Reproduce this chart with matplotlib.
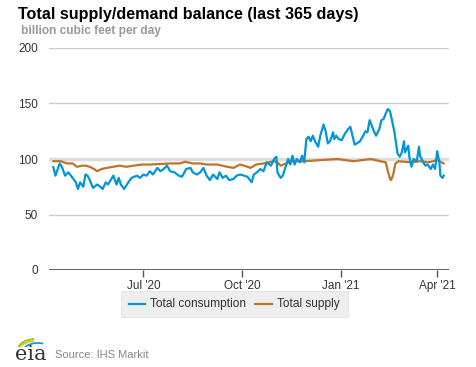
import matplotlib
matplotlib.use("Agg")
import matplotlib.pyplot as plt
from matplotlib.patches import Arc
from matplotlib.lines import Line2D
import pandas as pd

plt.rcParams['font.family'] = ['Liberation Sans', 'DejaVu Sans']

start_date = "2020-04-08"

consumption_days = [
    0, 2, 6, 8, 11, 14, 18, 21, 23, 25,
    28, 30, 32, 34, 37, 41, 44, 46, 49, 51,
    56, 59, 61, 63, 66, 70, 73, 78, 81, 84,
    87, 90, 93, 97, 100, 103, 106, 109, 113, 117,
    120, 124, 128, 130, 134, 137, 140, 143, 146, 149,
    153, 155, 158, 161, 164, 168, 171, 174, 178, 181,
    185, 187, 190, 193, 196, 199, 203, 206, 208, 209,
    212, 214, 217, 219, 221, 223, 225, 227, 230, 232,
    234, 236, 238, 240, 242, 244, 247, 249, 252, 254,
    256, 258, 261, 262, 264, 266, 269, 272, 275, 277,
    279, 281, 283, 286, 289, 291, 293, 295, 297, 299,
    301, 304, 306, 308, 310, 312, 314, 316, 318, 320,
    321, 323, 325, 327, 328, 331, 332, 334, 336, 339,
    341, 342, 345, 347, 349, 352, 354, 356, 358, 360,
    361, 363, 364,
]
consumption = [
    92.7, 85, 96, 93, 85, 88, 83, 79, 73, 79,
    75, 86, 85, 81, 74, 77, 75, 73, 79, 77,
    85, 77, 83, 77, 73, 79, 83, 85, 83, 86,
    85, 89, 86, 92, 89, 91, 94, 89, 88, 85,
    84, 91, 92, 88, 86, 88, 92, 85, 81, 86,
    82, 88, 83, 85, 81, 82, 85, 86, 85, 84,
    79, 86, 88, 91, 89, 97, 94, 100, 102, 88,
    83, 85, 94, 100, 95, 103, 95, 100, 97, 103,
    97, 118, 120, 116, 121, 116, 111, 121, 131, 125,
    114, 116, 124, 118, 121, 118, 117, 123, 127, 129,
    121, 113, 114, 116, 121, 125, 124, 135, 130, 125,
    121, 127, 135, 136, 141, 145, 143, 134, 125, 112,
    105, 102, 106, 116, 106, 112, 102, 93, 100, 98,
    111, 103, 97, 94, 95, 91, 95, 91, 107, 97,
    85, 83, 85,
]

supply_days = [
    0, 7, 13, 18, 22, 27, 30, 34, 38, 41,
    45, 50, 56, 62, 68, 75, 83, 90, 100, 109,
    118, 123, 130, 137, 143, 153, 162, 168, 174, 178,
    184, 189, 196, 201, 206, 209, 212, 217, 223, 234,
    249, 265, 280, 296, 305, 310, 312, 314, 315, 317,
    319, 322, 333, 342, 350, 358, 364,
]
supply = [
    98, 98, 96, 96, 93, 94, 94, 93, 91, 89,
    91, 92, 93, 94, 93, 94, 95, 95, 95.5, 96,
    96, 97.5, 96, 96, 95, 95, 93, 92, 95, 94,
    92, 95, 96, 97, 98, 97, 94, 96, 98, 98,
    99, 100, 98, 100, 98, 97, 89, 82, 81, 86,
    96, 98, 97, 98, 97, 99, 96,
]

y_ticks = [0, 50, 100, 150, 200]
x_tick_dates = ["2020-07-01", "2020-10-01", "2021-01-01", "2021-04-01"]
x_tick_labels = ["Jul '20", "Oct '20", "Jan '21", "Apr '21"]

t0 = pd.Timestamp(start_date)
cx = [t0 + pd.Timedelta(days=d) for d in consumption_days]
sx = [t0 + pd.Timedelta(days=d) for d in supply_days]

BLUE = "#0096d7"
ORANGE = "#bd732a"
TXT = "#333333"

fig = plt.figure(figsize=(4.77, 3.67), dpi=100)
ax = fig.add_axes([49 / 477, 1 - 270 / 367, 400 / 477, 222 / 367])

ax.plot(sx, supply, color=ORANGE, lw=1.6, zorder=3)
ax.plot(cx, consumption, color=BLUE, lw=1.6, zorder=4)

ax.set_ylim(0, 200)
ax.set_xlim(pd.Timestamp("2020-04-04"), pd.Timestamp("2021-04-12"))
for v in y_ticks[1:]:
    if v == 100:
        ax.axhline(v, color="#dddddd", lw=2.5, zorder=1)
    else:
        ax.axhline(v, color="#cccccc", lw=1.0, zorder=1)
ax.axhline(0, color="#555555", lw=1.3, zorder=2)

ax.set_yticks(y_ticks)
ax.set_yticklabels([str(v) for v in y_ticks])
ax.tick_params(axis="y", length=0, pad=8, labelsize=8.5, labelcolor=TXT)
ax.set_xticks([pd.Timestamp(d) for d in x_tick_dates])
ax.set_xticklabels(x_tick_labels)
ax.tick_params(axis="x", length=5, width=1, color="#555555", pad=2,
               labelsize=8.5, labelcolor=TXT)
for s in ax.spines.values():
    s.set_visible(False)
ax.set_facecolor("none")

fig.text(18 / 477, 1 - 14 / 367, "Total supply/demand balance (last 365 days)",
         fontsize=11.6, fontweight="bold", color="#000000", va="center", ha="left")
fig.text(21 / 477, 1 - 31 / 367, "billion cubic feet per day",
         fontsize=8.6, fontweight="bold", color="#999999", va="center", ha="left")

# legend box
lx0, lx1, ly0, ly1 = 121, 348, 291, 317
fig.patches.append(plt.Rectangle((lx0 / 477, 1 - ly1 / 367), (lx1 - lx0) / 477,
                                 (ly1 - ly0) / 367, transform=fig.transFigure,
                                 facecolor="#eeeeee", edgecolor="#e6e6e6", lw=0.8))
ly = 1 - 304 / 367
fig.lines.append(Line2D([129 / 477, 145 / 477], [ly, ly], transform=fig.transFigure,
                        color=BLUE, lw=1.6))
fig.text(150 / 477, ly, "Total consumption", fontsize=8.6, color=TXT, va="center")
fig.lines.append(Line2D([255 / 477, 272 / 477], [ly, ly], transform=fig.transFigure,
                        color=ORANGE, lw=1.6))
fig.text(277 / 477, ly, "Total supply", fontsize=8.6, color=TXT, va="center")

# eia logo approximation
fig.text(15 / 477, 1 - 354 / 367, "eia", fontsize=15, family="DejaVu Serif",
         color="#333333", va="center", ha="left")
lax = fig.add_axes([17 / 477, 1 - 347 / 367, 26 / 477, 10 / 367])
lax.set_xlim(0, 1)
lax.set_ylim(0, 1)
lax.axis("off")
lax.add_patch(Arc((0.75, -0.2), 1.4, 2.0, theta1=95, theta2=170, color="#8dc63f", lw=1.5))
lax.add_patch(Arc((0.75, -0.4), 1.4, 2.0, theta1=95, theta2=165, color="#f2c200", lw=1.2))
lax.add_patch(Arc((0.8, -0.6), 1.2, 2.0, theta1=60, theta2=150, color="#0096d7", lw=1.2))

fig.text(55 / 477, 1 - 355 / 367, "Source: IHS Markit", fontsize=8,
         color="#888888", va="center", ha="left")

fig.savefig("out.png", dpi=100)
